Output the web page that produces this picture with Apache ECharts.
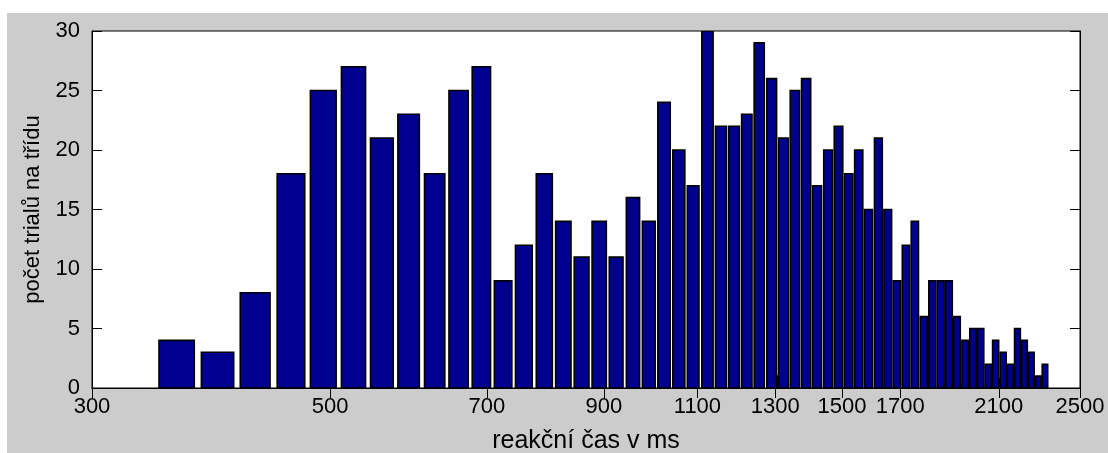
<!DOCTYPE html>
<html>
<head>
<meta charset="utf-8">
<script src="https://cdn.jsdelivr.net/npm/echarts@6/dist/echarts.min.js"></script>
<style>
html,body{margin:0;padding:0;background:#fff;}
#chart{width:1108px;height:453px;}
</style>
</head>
<body>
<div id="chart"></div>
<script>
// ---- data ----
// histogram bin centres (ms)
const binCenters = [360, 393, 426, 460, 493, 526, 559, 592, 626, 659,
  692, 725, 758, 792, 825, 858, 891, 924, 958, 991,
  1024, 1057, 1090, 1124, 1157, 1190, 1223, 1256, 1290, 1323,
  1356, 1389, 1422, 1456, 1489, 1522, 1555, 1588, 1622, 1655,
  1688, 1721, 1754, 1788, 1821, 1854, 1887, 1920, 1954, 1987,
  2020, 2053, 2086, 2120, 2153, 2186, 2219, 2252, 2286, 2319];
// counts per bin
const counts = [4, 3, 8, 18, 25, 27, 21, 23, 18, 25,
  27, 9, 12, 18, 14, 11, 14, 11, 16, 14,
  24, 20, 17, 30, 22, 22, 23, 29, 26, 21,
  25, 26, 17, 20, 22, 18, 20, 15, 21, 15,
  9, 12, 14, 6, 9, 9, 9, 6, 4, 5,
  5, 2, 4, 3, 2, 5, 4, 3, 1, 2];
// a small hidden bar visible only in a gap
const hiddenCenters = [1306];
const hiddenCounts = [1];
const binWidth = 33.2;
const xTicks = [300, 500, 700, 900, 1100, 1300, 1500, 1700, 2100, 2500];
const yTicks = [0, 5, 10, 15, 20, 25, 30];
const xTitle = 'reakční čas v ms';
const yTitle = 'počet trialů na třídu';

// ---- styling ----
const BAR_FRAC = 0.82;
const FONT = '"Liberation Sans", Arial, sans-serif';

function renderBar(params, api) {
  const c = api.value(0), v = api.value(1);
  const half = binWidth * BAR_FRAC / 2;
  const p0 = api.coord([c - half, v]);
  const p1 = api.coord([c + half, 0]);
  return {
    type: 'rect',
    shape: {x: p0[0], y: p0[1], width: p1[0] - p0[0], height: p1[1] - p0[1]},
    style: {fill: '#00008f', stroke: '#000000', lineWidth: 1.6}
  };
}

const mainData = binCenters.map((c, i) => [c, counts[i]]);
const hiddenData = hiddenCenters.map((c, i) => [c, hiddenCounts[i]]);

const chart = echarts.init(document.getElementById('chart'), null, {renderer: 'canvas'});
const axisLineStyle = {color: '#000', width: 1};
chart.setOption({
  animation: false,
  backgroundColor: '#cccccc',
  textStyle: {fontFamily: FONT},
  graphic: [
    {type: 'rect', left: 0, top: 0, shape: {width: 1108, height: 13}, style: {fill: '#ffffff'}, z: 100},
    {type: 'rect', left: 0, top: 0, shape: {width: 7, height: 453}, style: {fill: '#ffffff'}, z: 100}
  ],
  grid: {left: 92, right: 28, top: 31, bottom: 65, show: true, containLabel: false, outerBoundsMode: 'none',
    backgroundColor: '#ffffff', borderColor: '#000', borderWidth: 1},
  xAxis: [{
    type: 'log', logBase: 10, min: 300, max: 2500, position: 'bottom',
    name: xTitle, nameLocation: 'middle', nameGap: 41,
    nameTextStyle: {fontSize: 25, color: '#000', fontFamily: FONT},
    axisLine: {lineStyle: axisLineStyle},
    axisTick: {inside: true, length: 10, lineStyle: axisLineStyle, customValues: xTicks},
    axisLabel: {fontSize: 22, color: '#000', margin: 8, customValues: xTicks, fontFamily: FONT,
      formatter: v => String(Math.round(v))},
    splitLine: {show: false}, minorTick: {show: false}
  }, {
    type: 'log', logBase: 10, min: 300, max: 2500, position: 'top',
    axisLine: {lineStyle: axisLineStyle},
    axisTick: {inside: true, length: 10, lineStyle: axisLineStyle, customValues: xTicks},
    axisLabel: {show: false},
    splitLine: {show: false}
  }],
  yAxis: [{
    type: 'value', min: 0, max: 30, interval: 5, position: 'left',
    name: yTitle, nameLocation: 'middle', nameGap: 48, nameRotate: 90,
    nameTextStyle: {fontSize: 22, color: '#000', fontFamily: FONT},
    axisLine: {show: true, lineStyle: axisLineStyle},
    axisTick: {show: true, inside: true, length: 10, lineStyle: axisLineStyle},
    axisLabel: {fontSize: 22, color: '#000', margin: 12, fontFamily: FONT},
    splitLine: {show: false}
  }, {
    type: 'value', min: 0, max: 30, interval: 5, position: 'right',
    axisLine: {show: true, lineStyle: axisLineStyle},
    axisTick: {show: true, inside: true, length: 10, lineStyle: axisLineStyle},
    axisLabel: {show: false},
    splitLine: {show: false}
  }],
  series: [{
    type: 'custom', xAxisIndex: 0, yAxisIndex: 0,
    renderItem: renderBar, data: hiddenData, z: 2, clip: true
  }, {
    type: 'custom', xAxisIndex: 0, yAxisIndex: 0,
    renderItem: renderBar, data: mainData, z: 3, clip: true
  }]
});
</script>
</body>
</html>
